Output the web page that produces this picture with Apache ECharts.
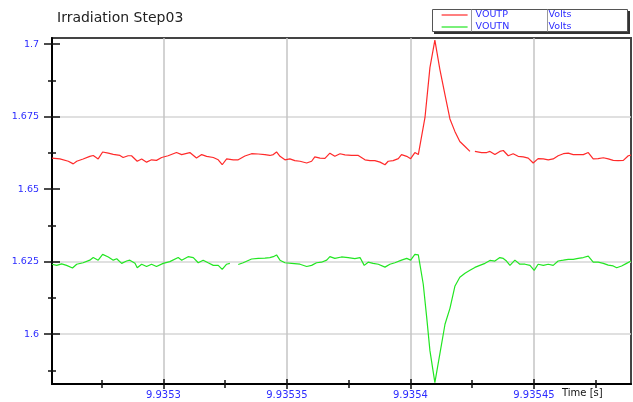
<!DOCTYPE html>
<html><head><meta charset="utf-8">
<script src="https://cdn.jsdelivr.net/npm/echarts@6/dist/echarts.min.js"></script>
<style>html,body{margin:0;padding:0;background:#fff}#c{width:633px;height:402px}</style>
</head><body><div id="c"></div>
<script>
// ---------- data ----------
const titleText = 'Irradiation Step03';
const xAxisName = 'Time [s]';
const seriesNames = ['VOUTP', 'VOUTN'];
const seriesUnits = ['Volts', 'Volts'];

// time axis: microseconds after 9.9353 s
const xRange = [-45.1, 189.3];
const xTickValues = [0, 50, 100, 150];
const xTickLabels = ['9.9353', '9.93535', '9.9354', '9.93545'];
const xMinorValues = [-25, 25, 75, 125, 175];

const yRange = [1.5828, 1.7021];
const yTickValues = [1.6, 1.625, 1.65, 1.675, 1.7];
const yTickLabels = ['1.6', '1.625', '1.65', '1.675', '1.7'];
const yMinorValues = [1.5875, 1.6125, 1.6375, 1.6625, 1.6875];
const yGridValues = [1.6, 1.625, 1.675];

// [time (us after 9.9353 s), volts]
const voutp = [
  [-45.1,1.6607],[-41.9,1.6604],[-38.5,1.6596],[-36.5,1.6587],[-35.1,1.6596],[-32.5,1.6604],[-29.8,1.6613],[-28.4,1.6616],[-26.4,1.6604],[-24.6,1.6628],
  [-22.3,1.6624],[-20.3,1.6620],[-17.6,1.6616],[-16.3,1.6609],[-14.3,1.6615],[-12.9,1.6615],[-10.6,1.6596],[-8.8,1.6604],[-6.8,1.6593],[-4.8,1.6601],
  [-2.8,1.6599],[-0.7,1.6609],[1.9,1.6615],[5.3,1.6626],[7.4,1.6619],[10.7,1.6626],[13.4,1.6607],[15.5,1.6619],[17.5,1.6613],[20.2,1.6609],
  [22.2,1.6601],[23.8,1.6584],[25.6,1.6604],[28.3,1.6601],[30.3,1.6601],[33.0,1.6614],[35.7,1.6622],[38.4,1.6621],[41.1,1.6619],[43.1,1.6616],
  [44.5,1.6619],[45.8,1.6628],[47.2,1.6613],[49.2,1.6601],[51.2,1.6604],[53.2,1.6598],[55.3,1.6596],[58.0,1.6590],[60.0,1.6596],[61.3,1.6611],
  [63.4,1.6607],[65.4,1.6606],[67.4,1.6624],[69.4,1.6613],[71.5,1.6622],[73.5,1.6618],[76.2,1.6616],[78.9,1.6616],[81.6,1.6601],[83.6,1.6598],
  [85.6,1.6598],[87.7,1.6593],[89.7,1.6584],[91.0,1.6596],[93.0,1.6598],[95.1,1.6605],[96.4,1.6619],[98.5,1.6613],[100.1,1.6605],[101.8,1.6626],
  [103.2,1.6619],[103.8,1.6622],[105.9,1.6747],[107.9,1.6919],[109.9,1.7014],[111.9,1.6914],[114.0,1.6825],[116.0,1.6742],[118.0,1.6699],[120.0,1.6664],
  [122.1,1.6647],[124.1,1.6630],[125.1,null],[126.1,1.6630],[128.8,1.6626],[130.9,1.6626],[132.2,1.6630],[134.2,1.6619],[136.2,1.6630],[137.6,1.6633],
  [139.6,1.6615],[141.6,1.6622],[143.6,1.6613],[145.7,1.6611],[147.7,1.6607],[149.7,1.6590],[151.7,1.6605],[153.8,1.6604],[155.8,1.6601],[157.8,1.6604],
  [159.8,1.6615],[161.9,1.6622],[163.9,1.6624],[165.9,1.6619],[167.9,1.6619],[170.0,1.6619],[172.0,1.6626],[174.0,1.6604],[176.0,1.6605],[178.1,1.6608],
  [180.1,1.6604],[182.1,1.6599],[184.1,1.6598],[186.2,1.6599],[188.2,1.6615],[189.3,1.6617]
];
const voutn = [
  [-45.1,1.6241],[-43.2,1.6237],[-41.2,1.6242],[-39.2,1.6237],[-36.8,1.6228],[-35.1,1.6241],[-32.5,1.6246],[-29.8,1.6255],[-28.4,1.6264],[-26.4,1.6255],
  [-24.6,1.6275],[-22.3,1.6266],[-20.3,1.6255],[-18.9,1.6260],[-16.9,1.6244],[-14.9,1.6252],[-13.6,1.6255],[-11.5,1.6244],[-10.6,1.6229],[-8.8,1.6241],
  [-6.8,1.6233],[-4.8,1.6241],[-2.8,1.6233],[-0.1,1.6244],[2.6,1.6250],[6.0,1.6264],[7.4,1.6255],[10.0,1.6267],[12.1,1.6264],[14.1,1.6246],
  [16.1,1.6255],[18.1,1.6246],[20.2,1.6237],[22.2,1.6237],[23.8,1.6223],[25.6,1.6241],[26.9,1.6244],[28.6,null],[30.3,1.6240],[32.3,1.6246],
  [35.7,1.6259],[38.4,1.6261],[41.1,1.6262],[43.1,1.6264],[44.5,1.6267],[45.8,1.6273],[47.2,1.6255],[49.2,1.6246],[51.9,1.6244],[55.3,1.6241],
  [58.0,1.6233],[60.0,1.6237],[62.0,1.6246],[64.0,1.6248],[66.1,1.6255],[67.4,1.6267],[69.4,1.6261],[72.1,1.6266],[74.8,1.6264],[77.5,1.6260],
  [79.6,1.6264],[81.3,1.6237],[82.9,1.6248],[84.9,1.6244],[87.0,1.6241],[89.7,1.6231],[91.7,1.6241],[93.7,1.6246],[96.4,1.6255],[98.5,1.6261],
  [100.1,1.6255],[101.8,1.6275],[103.2,1.6273],[103.8,1.6267],[105.2,1.6172],[106.6,1.6057],[107.9,1.5943],[109.9,1.5833],[111.9,1.5931],[114.0,1.6034],
  [116.0,1.6089],[118.0,1.6165],[120.0,1.6196],[122.1,1.6210],[124.1,1.6220],[126.1,1.6230],[128.1,1.6237],[130.2,1.6244],[132.2,1.6254],[134.2,1.6252],
  [136.2,1.6264],[137.6,1.6261],[138.9,1.6252],[140.3,1.6237],[142.3,1.6255],[144.3,1.6241],[146.4,1.6241],[148.4,1.6237],[150.1,1.6220],[151.7,1.6241],
  [153.8,1.6237],[155.8,1.6241],[157.8,1.6237],[159.8,1.6252],[161.9,1.6255],[163.9,1.6258],[165.9,1.6258],[167.9,1.6261],[170.0,1.6264],[172.0,1.6269],
  [174.0,1.6248],[176.0,1.6248],[178.1,1.6244],[180.1,1.6238],[182.1,1.6235],[183.5,1.6229],[185.5,1.6235],[187.5,1.6244],[189.3,1.6252]
];

// ---------- chart ----------
const FONT = '"DejaVu Sans", sans-serif';
const BLUE = '#2c2cff';
const RED = '#ff2a2a';
const GREEN = '#22e622';

function labelLookup(values, labels) {
  return function (v) {
    for (let i = 0; i < values.length; i++) {
      if (Math.abs(v - values[i]) < 1e-7) return labels[i];
    }
    return '';
  };
}

function baseAxis(range, pos) {
  return {
    type: 'value', min: range[0], max: range[1], position: pos,
    axisLine: { show: false, onZero: false },
    axisLabel: { show: false },
    axisTick: { show: false },
    splitLine: { show: false },
    axisPointer: { show: false }
  };
}
function tickOnly(range, pos, values, inside, len) {
  const a = baseAxis(range, pos);
  a.axisTick = { show: true, customValues: values, inside: inside, length: len,
                 lineStyle: { color: '#111', width: 1.5 } };
  return a;
}

const xMain = baseAxis(xRange, 'bottom');
xMain.axisLine = { show: true, onZero: false, lineStyle: { color: '#000', width: 2 } };
xMain.axisTick = { show: true, customValues: xTickValues, length: 5, lineStyle: { color: '#111', width: 1.5 } };
xMain.axisLabel = { show: true, customValues: xTickValues, formatter: labelLookup(xTickValues, xTickLabels),
                    color: BLUE, fontSize: 10, fontFamily: FONT, margin: 6 };
xMain.splitLine = { show: true, lineStyle: { color: '#c4c4c4', width: 1.5 } };

const yMain = baseAxis(yRange, 'left');
yMain.axisLine = { show: true, onZero: false, lineStyle: { color: '#000', width: 2 } };
yMain.axisTick = { show: true, customValues: yTickValues, length: 8, lineStyle: { color: '#111', width: 1.5 } };
yMain.axisLabel = { show: true, customValues: yTickValues, formatter: labelLookup(yTickValues, yTickLabels),
                    color: BLUE, fontSize: 9.5, fontFamily: FONT, margin: 13 };

const yGrid = baseAxis(yRange, 'left');
yGrid.axisTick = { show: false, customValues: yGridValues };
yGrid.splitLine = { show: true, lineStyle: { color: '#d6d6d6', width: 1.5 } };

const chart = echarts.init(document.getElementById('c'), null, { renderer: 'canvas' });
chart.setOption({
  animation: false,
  backgroundColor: '#fff',
  title: {
    text: titleText, left: 57, top: 11, padding: 0,
    textStyle: { fontFamily: FONT, fontSize: 14, fontWeight: 'normal', color: '#222' }
  },
  legend: {
    orient: 'vertical', left: 441, top: 10, padding: 0,
    itemWidth: 26, itemHeight: 10, itemGap: 2, selectedMode: false,
    data: seriesNames,
    itemStyle: { opacity: 0, borderWidth: 0 },
    lineStyle: { width: 1.2 },
    formatter: function (name) {
      return '{n|' + name + '}{u|' + seriesUnits[seriesNames.indexOf(name)] + '}';
    },
    textStyle: {
      rich: {
        n: { width: 73, padding: [0, 0, 0, 3], color: BLUE, fontSize: 9.5, fontFamily: FONT },
        u: { color: BLUE, fontSize: 9.5, fontFamily: FONT }
      }
    },
    z: 10
  },
  grid: {
    left: 52, right: 2, top: 38, bottom: 18,
    show: true, borderColor: '#444', borderWidth: 2, backgroundColor: '#fff',
    containLabel: false, outerBoundsMode: 'none'
  },
  xAxis: [
    xMain,
    tickOnly(xRange, 'bottom', xTickValues, true, 5),
    tickOnly(xRange, 'bottom', xMinorValues, false, 4),
    tickOnly(xRange, 'bottom', xMinorValues, true, 4)
  ],
  yAxis: [
    yMain,
    tickOnly(yRange, 'left', yTickValues, true, 8),
    tickOnly(yRange, 'left', yMinorValues, false, 4),
    tickOnly(yRange, 'left', yMinorValues, true, 4),
    yGrid
  ],
  graphic: [
    { type: 'rect', z: 1, shape: { x: 434, y: 11, width: 196, height: 23 }, style: { fill: '#333' } },
    { type: 'rect', z: 2, shape: { x: 432.5, y: 9.5, width: 195, height: 22 }, style: { fill: '#fff', stroke: '#555', lineWidth: 1 } },
    { type: 'line', z: 3, shape: { x1: 471.5, y1: 9.5, x2: 471.5, y2: 31.5 }, style: { stroke: '#999', lineWidth: 1 } },
    { type: 'line', z: 3, shape: { x1: 547.5, y1: 9.5, x2: 547.5, y2: 31.5 }, style: { stroke: '#999', lineWidth: 1 } },
    { type: 'text', z: 3, x: 562, y: 393,
      style: { text: xAxisName, font: '10px "DejaVu Sans"', fill: '#111', verticalAlign: 'middle' } }
  ],
  series: [
    { type: 'line', name: seriesNames[0], data: voutp, xAxisIndex: 0, yAxisIndex: 0,
      showSymbol: false, symbol: 'none', connectNulls: false,
      lineStyle: { color: RED, width: 1.2 }, itemStyle: { color: RED } },
    { type: 'line', name: seriesNames[1], data: voutn, xAxisIndex: 0, yAxisIndex: 0,
      showSymbol: false, symbol: 'none', connectNulls: false,
      lineStyle: { color: GREEN, width: 1.2 }, itemStyle: { color: GREEN } }
  ]
});
</script>
</body></html>
